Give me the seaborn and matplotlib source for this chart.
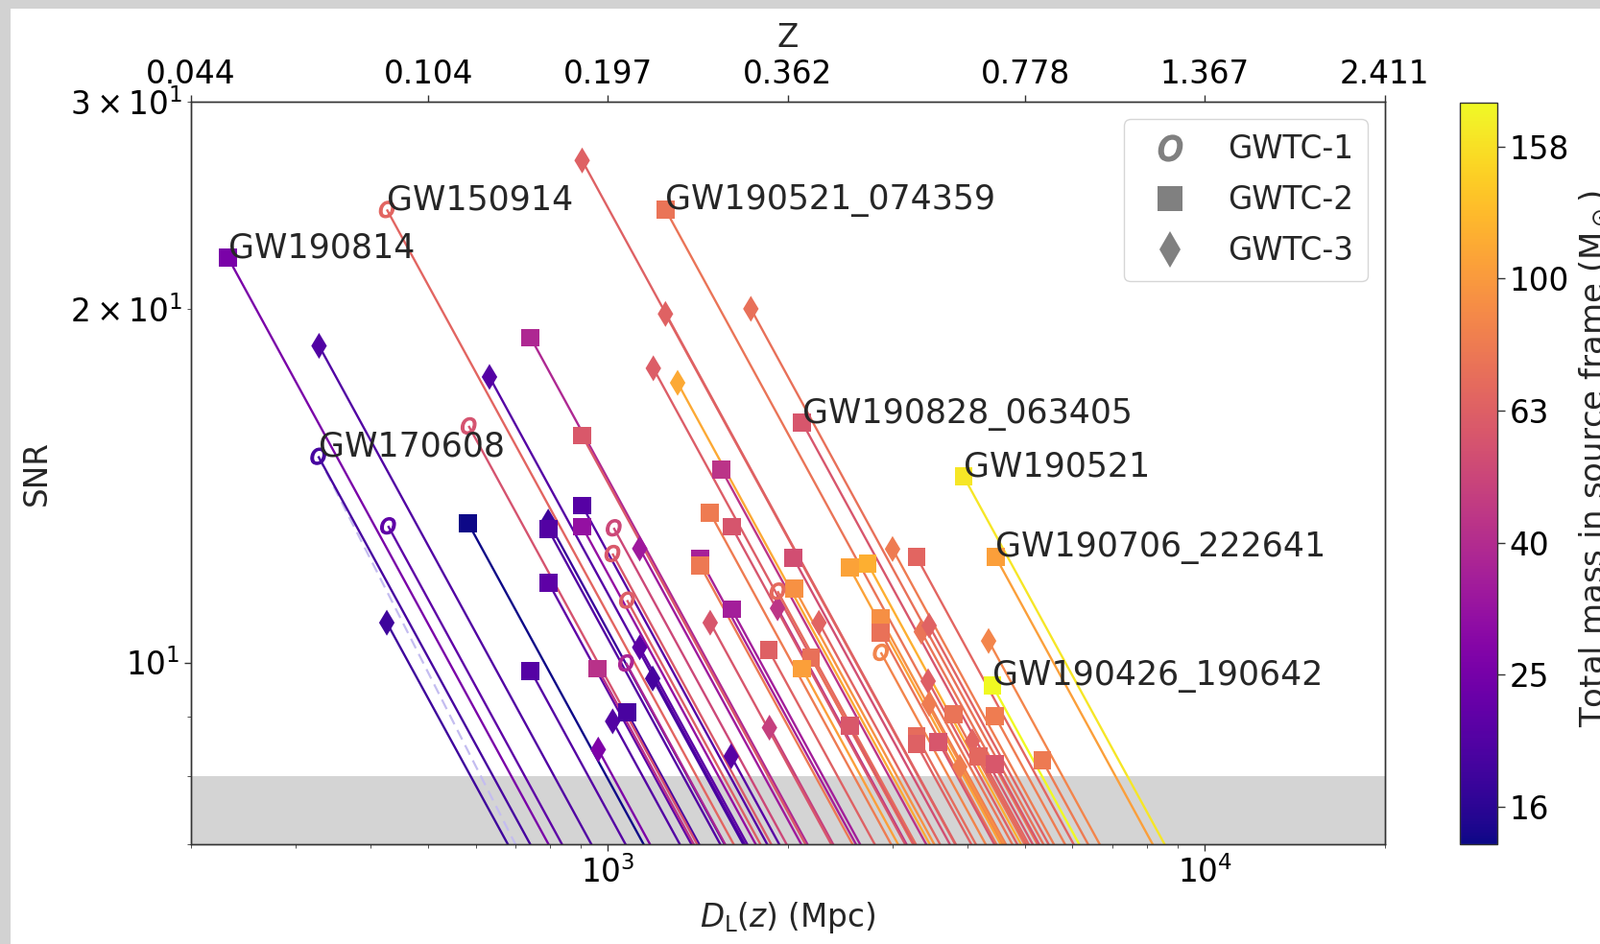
import numpy as np
import pandas as pd
import matplotlib
matplotlib.use("Agg")
import matplotlib.pyplot as plt
import seaborn as sns
from matplotlib.colors import LogNorm
from matplotlib.lines import Line2D
from matplotlib.patches import Rectangle
from matplotlib.ticker import NullLocator

# ------------------------------------------------------------------ data
# GWTC-1 events (open "o" markers): luminosity distance (Mpc), SNR, total source mass
gwtc1_dl = [426, 1072, 428, 1022, 327, 2864, 1017, 584, 1076, 1923]
gwtc1_snr = [24.3, 9.99, 13.07, 13.02, 14.98, 10.2, 12.38, 15.9, 11.3, 11.5]
gwtc1_mass = [66.2, 37.3, 21.5, 51.0, 18.6, 85.1, 59.2, 56.1, 62.1, 69.0]
gwtc1_label = ["GW150914", "", "", "", "GW170608", "", "", "", "", ""]

# GWTC-2 events (squares)
gwtc2_dl = [231, 1248, 742, 905, 2116, 1548, 3942, 583, 794, 905, 905, 795,
            1426, 1426, 1483, 1611, 1611, 2045, 2053, 2539, 2722, 3288, 4460,
            2864, 2864, 1859, 2188, 2114, 961, 742, 1076, 4405, 2539, 3789,
            4450, 3288, 3288, 3576, 4172, 4450, 5342]
gwtc2_snr = [22.1, 24.3, 18.9, 15.6, 16.0, 14.6, 14.4, 13.14, 12.98, 13.6, 13.05,
             11.69, 12.25, 12.1, 13.4, 13.05, 11.1, 12.27, 11.56, 12.04, 12.14,
             12.3, 12.3, 10.9, 10.6, 10.24, 10.1, 9.88, 9.88, 9.84, 9.07, 9.56,
             8.83, 9.04, 9.0, 8.66, 8.52, 8.56, 8.32, 8.2, 8.25]
gwtc2_mass = [25.8, 74.7, 38.4, 59.1, 58.0, 43.0, 163.9, 13.9, 20.1, 20.6, 30.9,
              21.5, 35.9, 78.0, 79.6, 57.2, 35.0, 53.9, 94.3, 106.6, 116.3, 66.1,
              104.1, 92.1, 72.9, 63.5, 72.6, 104.3, 42.0, 20.3, 19.0, 184.4, 59.1,
              75.0, 80.0, 70.1, 63.5, 57.8, 67.2, 58.6, 78.8]
gwtc2_label = ["GW190814", "GW190521_074359", "", "", "GW190828_063405", "",
               "GW190521"] + [""] * 15 + ["GW190706_222641"] + [""] * 8 + \
              ["GW190426_190642"] + [""] * 9

# GWTC-3 events (thin diamonds)
gwtc3_dl = [905, 328, 633, 1248, 1735, 1191, 1308, 426, 794, 1130, 1130, 1188,
            1018, 963, 1608, 1864, 1923, 1483, 2256, 2997, 3349, 3451, 4341,
            3438, 3451, 3885, 4077]
gwtc3_snr = [26.75, 18.6, 17.5, 19.8, 20.0, 17.8, 17.3, 10.81, 13.18, 12.5, 10.3,
             9.69, 8.91, 8.43, 8.32, 8.8, 11.12, 10.81, 10.81, 12.49, 10.62,
             10.75, 10.43, 9.64, 9.22, 8.15, 8.57]
gwtc3_mass = [63.3, 19.8, 20.2, 63.9, 72.2, 61.9, 112.0, 17.6, 17.5, 33.5, 21.2,
              18.5, 20.0, 26.7, 20.7, 47.2, 43.3, 57.8, 65.4, 79.0, 75.0, 65.0,
              86.0, 62.6, 80.0, 81.0, 66.0]

# reference curve (pure 1/D_L scaling) drawn dashed for GW170608
ref_index = 4

# axes / scales
dl_limits = [200, 20000]
snr_limits = [7, 30]
snr_threshold = 8
z_tick_dl = [200, 500, 1000, 2000, 5000, 10000, 20000]
z_tick_labels = ["0.044", "0.104", "0.197", "0.362", "0.778", "1.367", "2.411"]
mass_limits = [13.9, 184.4]
cbar_ticks = [15.85, 25.12, 39.81, 63.10, 100.0, 158.5]
cbar_tick_labels = ["16", "25", "40", "63", "100", "158"]
legend_labels = ["GWTC-1", "GWTC-2", "GWTC-3"]

# ------------------------------------------------------------------ style
sns.set_style("ticks")
plt.rcParams.update({
    "font.family": ["DejaVu Sans"],
    "font.size": 23.5,
    "axes.edgecolor": "#333333",
    "axes.linewidth": 1.0,
    "xtick.major.size": 5, "xtick.minor.size": 3,
    "ytick.major.size": 5, "ytick.minor.size": 3,
    "xtick.major.width": 1.0, "ytick.major.width": 1.0,
    "xtick.color": "#333333", "ytick.color": "#333333",
    "xtick.labelcolor": "black", "ytick.labelcolor": "black",
})

W, H = 1667, 984
fig = plt.figure(figsize=(W / 100, H / 100), dpi=100, facecolor="#d2d2d2")
fig.patches.append(Rectangle((11 / W, 0), 1, 1 - 9 / H, transform=fig.transFigure,
                             facecolor="white", edgecolor="none", zorder=-10))

ax = fig.add_axes([198.8 / W, 1 - 880.2 / H, (1442.6 - 198.8) / W, (880.2 - 106.3) / H])
ax.set_xscale("log")
ax.set_yscale("log")
ax.set_xlim(dl_limits)
ax.set_ylim(snr_limits)

norm = LogNorm(*mass_limits)
cmap = plt.get_cmap("plasma")

ax.axhspan(snr_limits[0], snr_threshold, color="#d4d4d4", lw=0, zorder=1)

# SNR scaling curves from each detection down to the bottom of the plot
k = 0.93


def draw_tracks(dl, snr, mass):
    for d0, s0, m in zip(dl, snr, mass):
        d_end = d0 * (s0 / 6.8) ** (1 / k)
        d = np.geomspace(d0, d_end, 40)
        ax.plot(d, s0 * (d0 / d) ** k, color=cmap(norm(m)), lw=1.7, zorder=2,
                solid_capstyle="butt")


draw_tracks(gwtc3_dl, gwtc3_snr, gwtc3_mass)
draw_tracks(gwtc2_dl, gwtc2_snr, gwtc2_mass)
draw_tracks(gwtc1_dl, gwtc1_snr, gwtc1_mass)

d0, s0 = gwtc1_dl[ref_index], gwtc1_snr[ref_index]
d = np.geomspace(d0, d0 * s0 / 6.8, 40)
ax.plot(d, s0 * d0 / d, color="#c4bdf0", lw=1.6, ls=(0, (5, 3)), zorder=1.5)

# markers
df1 = pd.DataFrame({"dl": gwtc1_dl, "snr": gwtc1_snr, "mass": gwtc1_mass})
df2 = pd.DataFrame({"dl": gwtc2_dl, "snr": gwtc2_snr, "mass": gwtc2_mass})
df3 = pd.DataFrame({"dl": gwtc3_dl, "snr": gwtc3_snr, "mass": gwtc3_mass})

sns.scatterplot(data=df3, x="dl", y="snr", hue="mass", hue_norm=norm, palette="plasma",
                marker="d", s=190, linewidth=0, edgecolor="face", legend=False,
                ax=ax, zorder=3)
sns.scatterplot(data=df2, x="dl", y="snr", hue="mass", hue_norm=norm, palette="plasma",
                marker="s", s=185, linewidth=0, edgecolor="face", legend=False,
                ax=ax, zorder=3)
sns.scatterplot(data=df1, x="dl", y="snr", hue="mass", hue_norm=norm, palette="plasma",
                marker="$o$", s=150, linewidth=0.9, edgecolor="face", legend=False,
                ax=ax, zorder=3)

# event names
for dl, snr, lab in list(zip(gwtc1_dl, gwtc1_snr, gwtc1_label)) + \
        list(zip(gwtc2_dl, gwtc2_snr, gwtc2_label)):
    if lab:
        ax.text(dl, snr, lab, ha="left", va="baseline", fontsize=25, zorder=5)

ax.set_xlabel(r"$D_{\rm L}(z)$ (Mpc)", fontsize=23.5)
ax.set_ylabel("SNR", fontsize=23.5)
ax.yaxis.set_label_coords(-0.116, 0.5)
ax.xaxis.set_label_coords(0.5, -0.075)

# top redshift axis
ax2 = ax.twiny()
ax2.set_xscale("log")
ax2.set_xlim(ax.get_xlim())
ax2.set_xticks(z_tick_dl)
ax2.set_xticklabels(z_tick_labels)
ax2.xaxis.set_minor_locator(NullLocator())
ax2.set_xlabel("Z", fontsize=23.5, labelpad=9)

# legend
handles = [
    Line2D([], [], ls="none", marker="$o$", color="gray", markersize=19, mew=1.3),
    Line2D([], [], ls="none", marker="s", color="gray", markersize=19, mew=0),
    Line2D([], [], ls="none", marker="d", color="gray", markersize=19, mew=0),
]
leg = ax.legend(handles, legend_labels, loc="upper right", fontsize=23.5,
                handletextpad=0.85, labelspacing=0.62, borderpad=0.45,
                borderaxespad=0.55)
leg.set_zorder(10)

# colorbar
cax = fig.add_axes([1521 / W, 1 - 880.2 / H, 38.6 / W, (880.2 - 107.4) / H])
sm = matplotlib.cm.ScalarMappable(norm=norm, cmap=cmap)
cb = fig.colorbar(sm, cax=cax)
cb.set_ticks(cbar_ticks)
cb.set_ticklabels(cbar_tick_labels)
cb.minorticks_off()
cax.tick_params(labelsize=23.5, length=6)
cb.outline.set_linewidth(1.0)
fig.text(1671 / W, 1 - 478 / H, r"Total mass in source frame (M$_\odot$)",
         rotation=90, rotation_mode="anchor", ha="center", va="baseline",
         fontsize=24.5)

fig.savefig("out.png", dpi=100, facecolor=fig.get_facecolor())
